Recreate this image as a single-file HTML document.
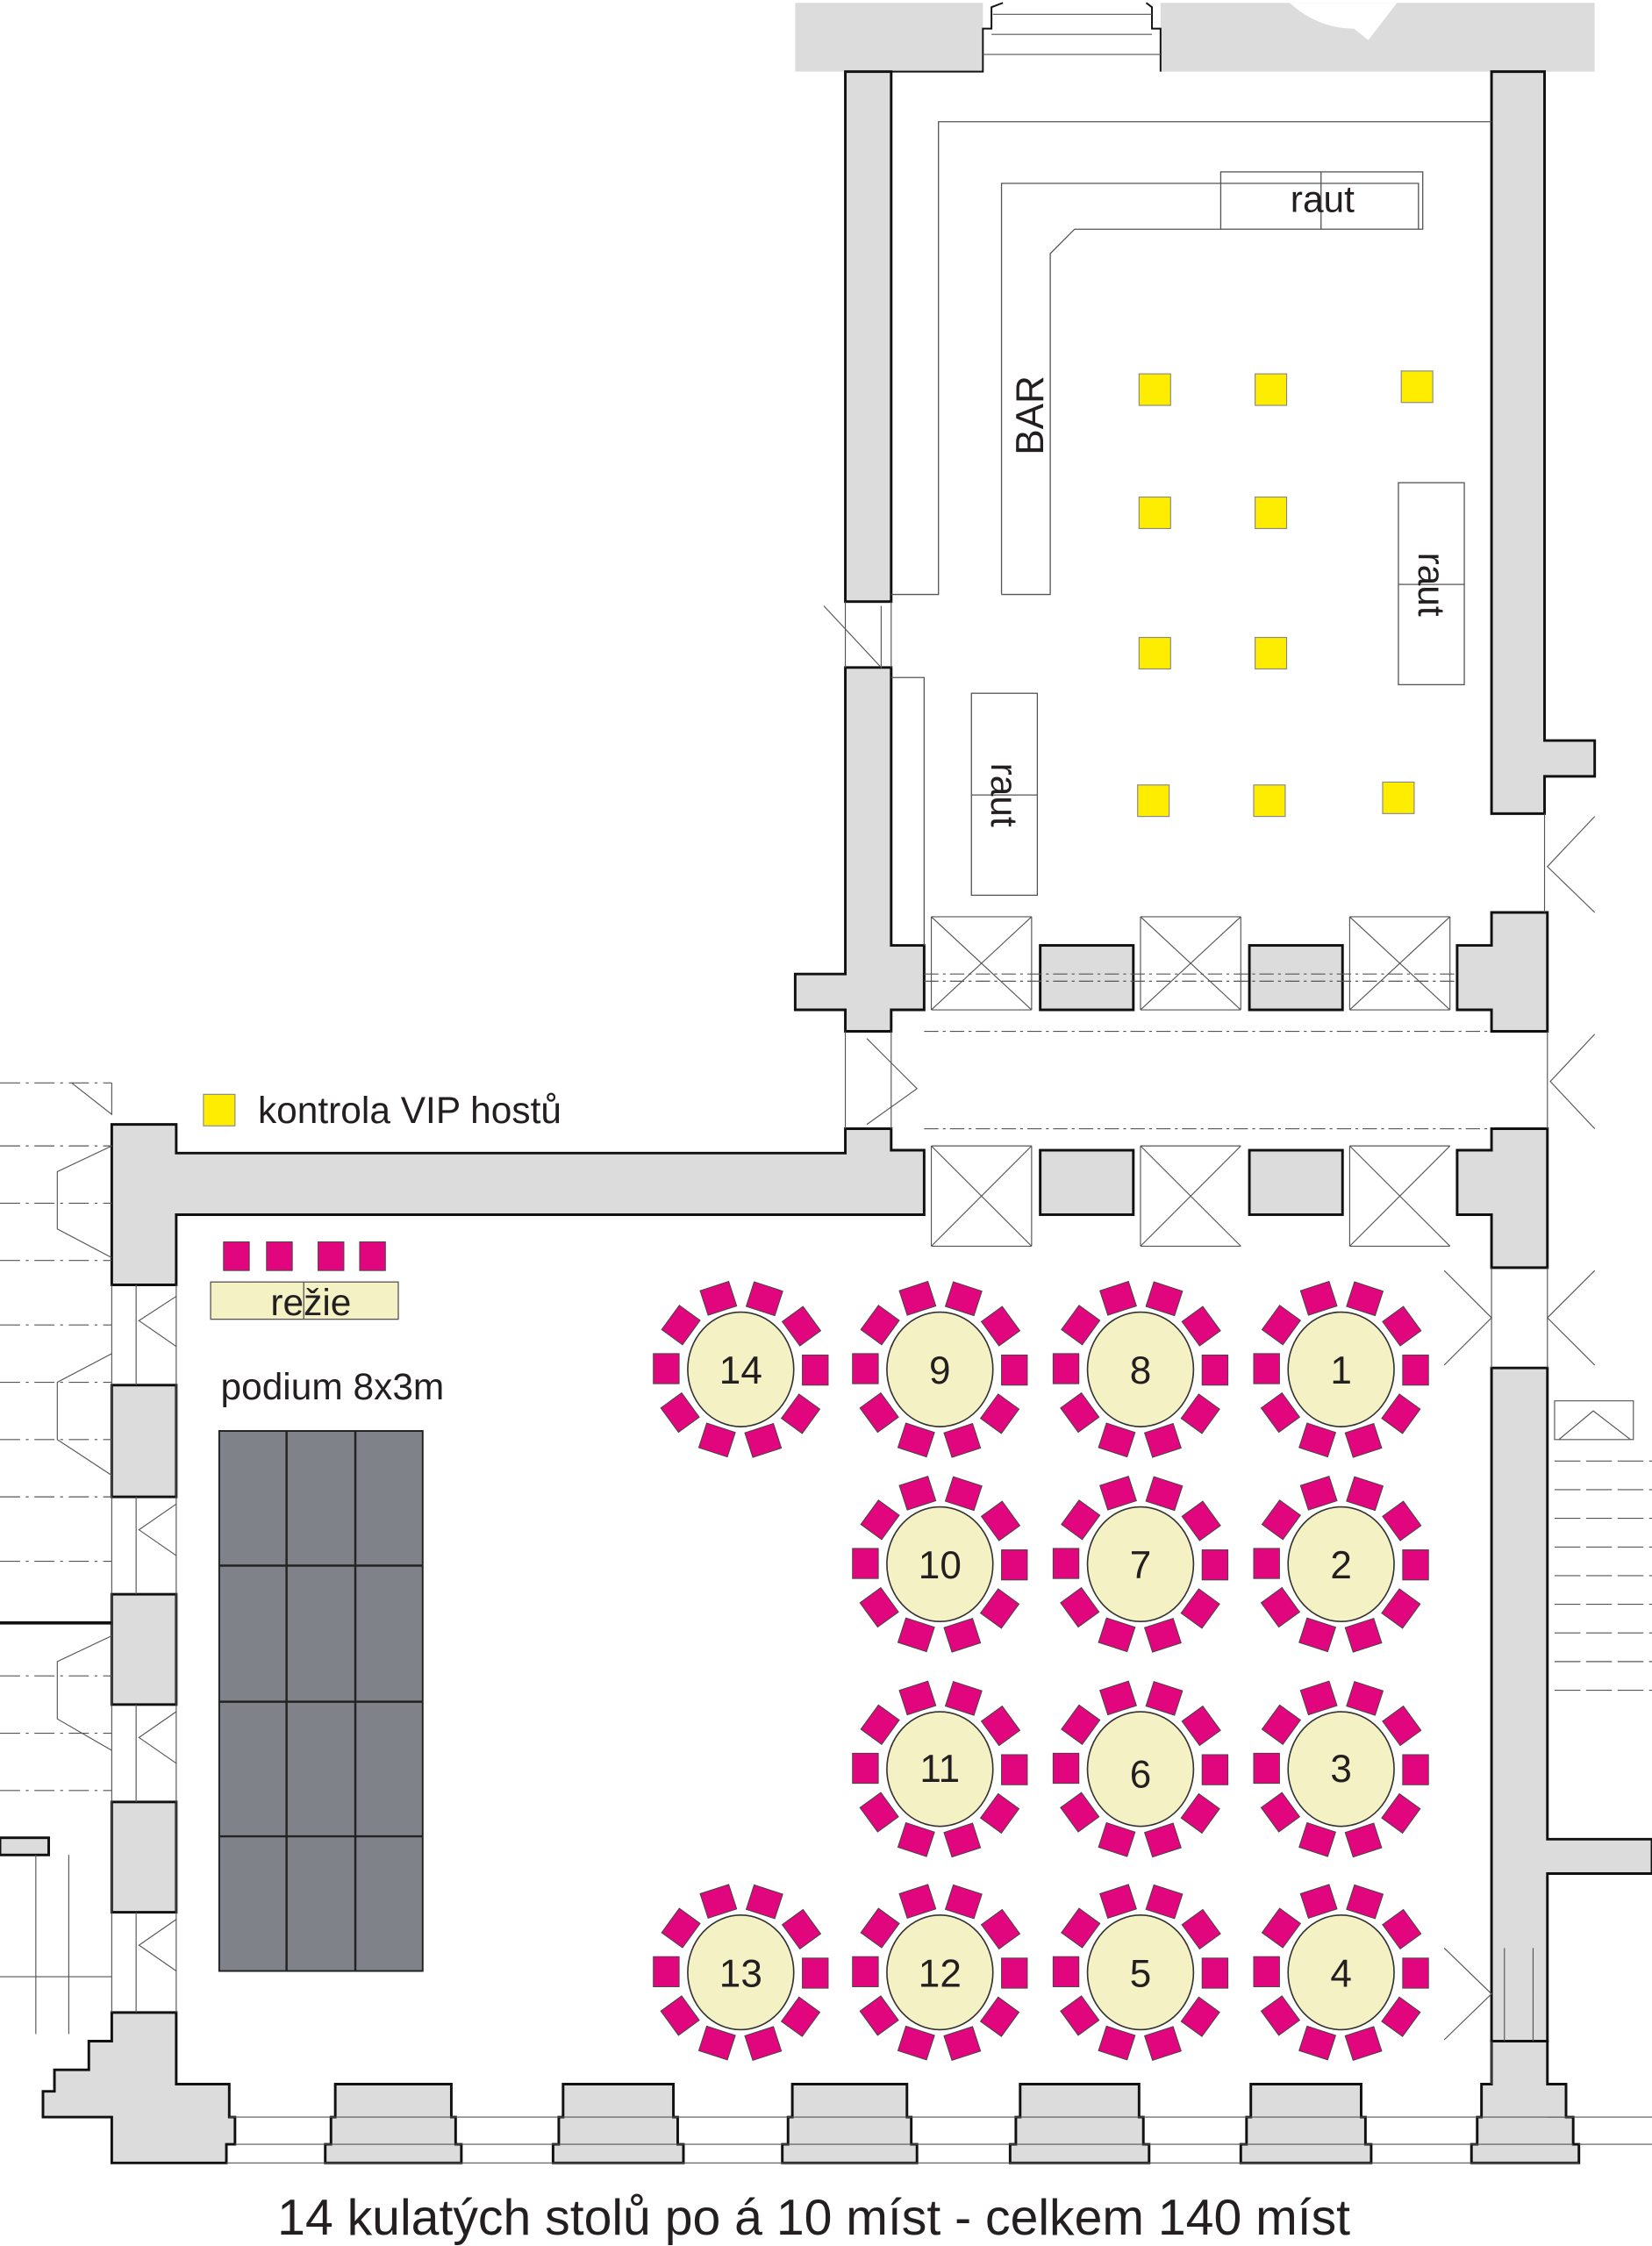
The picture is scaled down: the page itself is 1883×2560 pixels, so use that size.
<!DOCTYPE html>
<html><head><meta charset="utf-8"><style>
html,body{margin:0;padding:0;background:#fff;}
svg{display:block;}
text{font-family:"Liberation Sans",Arial,sans-serif;fill:#231f20;}
</style></head><body>
<svg width="1883" height="2560" viewBox="0 0 1153 1568" preserveAspectRatio="none" xmlns="http://www.w3.org/2000/svg">
<defs>
<g id="seats" fill="#e2067e" stroke="#444" stroke-width="0.6">
<rect x="-10" y="-61" width="21" height="18" transform="rotate(-18)"/>
<rect x="-10" y="-61" width="21" height="18" transform="rotate(18)"/>
<rect x="-10" y="-61" width="21" height="18" transform="rotate(54)"/>
<rect x="-10" y="-61" width="21" height="18" transform="rotate(90)"/>
<rect x="-10" y="-61" width="21" height="18" transform="rotate(126)"/>
<rect x="-10" y="-61" width="21" height="18" transform="rotate(162)"/>
<rect x="-10" y="-61" width="21" height="18" transform="rotate(198)"/>
<rect x="-10" y="-61" width="21" height="18" transform="rotate(234)"/>
<rect x="-10" y="-61" width="21" height="18" transform="rotate(270)"/>
<rect x="-10" y="-61" width="21" height="18" transform="rotate(306)"/>
<ellipse cx="0" cy="0" rx="37" ry="40" fill="#f4f2c4" stroke="#333" stroke-width="1"/>
</g>
</defs>

<g fill="#dcdcdc" stroke="#111" stroke-width="1.8">
<rect x="555" y="2" width="131" height="48" stroke="none"/>
<rect x="810" y="2" width="303" height="48" stroke="none"/>
<rect x="590" y="50" width="32" height="370"/>
<polygon points="590,466 622,466 622,660 645,660 645,705 622,705 622,720 590,720 590,705 555,705 555,680 590,680"/>
<polygon points="1041,50 1078,50 1078,517 1113,517 1113,542 1078,542 1078,568 1041,568"/>
<rect x="726" y="660" width="65" height="45"/>
<rect x="872" y="660" width="65" height="45"/>
<polygon points="1041,637 1080,637 1080,720 1041,720 1041,705 1017,705 1017,660 1041,660"/>
<rect x="726" y="803" width="65" height="45"/>
<rect x="872" y="803" width="65" height="45"/>
<polygon points="1041,788 1080,788 1080,885 1041,885 1041,848 1017,848 1017,803 1041,803"/>
<polygon points="78,785 123,785 123,805 590,805 590,788 622,788 622,803 645,803 645,848 123,848 123,897 78,897"/>
<rect x="78" y="967" width="45" height="78"/>
<rect x="78" y="1113" width="45" height="77"/>
<rect x="78" y="1258" width="45" height="77"/>
<rect x="0" y="1283" width="34" height="12"/>
<polygon points="1041,955 1080,955 1080,1284 1153,1284 1153,1308 1080,1308 1080,1425 1041,1425"/>
<polygon points="78,1405 123,1405 123,1455 160,1455 160,1478 164,1478 164,1497 158,1497 158,1510 78,1510 78,1478 30,1478 30,1460 38,1460 38,1445 62,1445 62,1425 78,1425"/>
<polygon points="234,1455 315,1455 315,1478 318,1478 318,1497 322,1497 322,1510 227,1510 227,1497 231,1497 231,1478 234,1478"/>
<polygon points="393,1455 470,1455 470,1478 473,1478 473,1497 477,1497 477,1510 386,1510 386,1497 390,1497 390,1478 393,1478"/>
<polygon points="553,1455 633,1455 633,1478 636,1478 636,1497 640,1497 640,1510 546,1510 546,1497 550,1497 550,1478 553,1478"/>
<polygon points="712,1455 795,1455 795,1478 798,1478 798,1497 802,1497 802,1510 705,1510 705,1497 709,1497 709,1478 712,1478"/>
<polygon points="873,1455 950,1455 950,1478 953,1478 953,1497 957,1497 957,1510 866,1510 866,1497 870,1497 870,1478 873,1478"/>
<polygon points="1041,1425 1080,1425 1080,1455 1093,1455 1093,1478 1098,1478 1098,1497 1102,1497 1102,1510 1027,1510 1027,1497 1031,1497 1031,1478 1034,1478 1034,1455 1041,1455"/>
</g>
<path d="M900,2 Q920,20 945,20 L955,28 L975,2" fill="#fff"/>
<g fill="none" stroke="#111" stroke-width="1.2">
<path d="M590,50 L686,50 L686,20 L692,20 L692,5 L700,2 M810,50 L810,20 L804,20 L804,5 L800,2"/>
<path d="M693,10 H804 M692,24 H804 M686,38 H810" stroke="#555" stroke-width="0.7"/>
</g>

<g fill="none" stroke="#555" stroke-width="0.7">
<path d="M160,1478 H1093 M164,1497 H1098 M158,1510 H1102"/>
<path d="M95,897 V967 M95,1045 V1113 M95,1190 V1258 M95,1335 V1405 M78,897 V1405 M123,897 V1405"/>
<path d="M123,905 L97,922 L123,940 M123,1050 L97,1068 L123,1086 M123,1195 L97,1213 L123,1231 M123,1340 L97,1358 L123,1376"/>
<path d="M0,756 H78 M0,800 H78 M0,840 H78 M0,880 H78 M0,925 H78 M0,965 H78 M0,1005 H78 M0,1045 H78 M0,1090 H78 M0,1170 H78 M0,1210 H78 M0,1250 H78" stroke-dasharray="14,4,2,4"/>
<path d="M78,800 L40,818 L40,858 L78,878 M78,945 L40,965 L40,1005 L78,1030 M78,1142 L40,1160 L40,1200 L78,1222 M50,756 L78,778 L78,756" />
<path d="M25,1295 V1420 M48,1295 V1420 M0,1380 H78"/>
<path d="M0,1133 H78" stroke="#111" stroke-width="2.2"/>
<path d="M590,420 V466 M622,420 V466 M575,423 L615,466 L615,423"/>
<path d="M590,720 V788 M622,720 V788 M605,725 L640,760 L605,785"/>
<path d="M650,640 L720,705 M720,640 L650,705 M650,640 H720 M650,705 H720 M650,640 V705 M720,640 V705"/>
<path d="M796,640 L866,705 M866,640 L796,705 M796,640 H866 M796,705 H866 M796,640 V705 M866,640 V705"/>
<path d="M942,640 L1012,705 M1012,640 L942,705 M942,640 H1012 M942,705 H1012 M942,640 V705 M1012,640 V705"/>
<path d="M650,800 L720,870 M720,800 L650,870 M650,800 H720 M650,870 H720 M650,800 V870 M720,800 V870"/>
<path d="M796,800 L866,870 M866,800 L796,870 M796,800 H866 M796,870 H866 M796,800 V870 M866,870 V870"/>
<path d="M942,800 L1012,870 M1012,800 L942,870 M942,800 H1012 M942,870 H1012 M942,800 V870 M1012,870 V870"/>
<path d="M645,680 H1017 M645,685 H1017 M645,720 H1041 M645,788 H1041" stroke-dasharray="10,3,2,3"/>
<path d="M1078,568 V637 M1113,570 L1080,605 L1113,637"/>
<path d="M1080,720 V788 M1113,722 L1082,755 L1113,788"/>
<path d="M1041,885 V955 M1080,885 V955 M1008,887 L1041,920 L1008,953 M1113,887 L1080,920 L1113,953"/>
<path d="M1041,1425 V1455 M1008,1360 L1041,1392 L1008,1424 M1050,1360 V1425 M1070,1360 V1425"/>
<path d="M1085,978 H1140 V1005 H1085 Z M1088,1005 L1112,985 L1138,1005"/>
<path d="M1085,1020 H1153 M1085,1040 H1153 M1085,1060 H1153 M1085,1080 H1153 M1085,1100 H1153 M1085,1120 H1153 M1085,1140 H1153 M1085,1160 H1153 M1085,1180 H1153" stroke-dasharray="18,4"/>
<path d="M1080,1478 H1153 M1102,1497 H1153"/>
</g>

<g fill="none" stroke="#555" stroke-width="0.8">
<path d="M622,415 H655 V85 H1041"/>
<path d="M699,415 V128 H852 M852,160 H750 L733,177 V415 H699"/>
<rect x="852" y="120" width="141" height="40"/>
<path d="M852,128 H990 V160 M922,120 V160"/>
<rect x="976" y="337" width="46" height="141"/>
<path d="M976,408 H1022"/>
<rect x="678" y="484" width="46" height="141"/>
<path d="M678,555 H724"/>
<path d="M622,473 H645 V660"/>
</g>
<text x="0" y="0" font-size="27" text-anchor="middle" transform="translate(728,290) rotate(-90)">BAR</text>
<text x="0" y="0" font-size="26" text-anchor="middle" transform="translate(923,148)">raut</text>
<text x="0" y="0" font-size="26" text-anchor="middle" transform="translate(990,408) rotate(90)">raut</text>
<text x="0" y="0" font-size="26" text-anchor="middle" transform="translate(692,555) rotate(90)">raut</text>

<g fill="#ffed00" stroke="#888" stroke-width="0.7">
<rect x="795" y="261" width="22" height="22"/><rect x="876" y="261" width="22" height="22"/><rect x="978" y="259" width="22" height="22"/>
<rect x="795" y="347" width="22" height="22"/><rect x="876" y="347" width="22" height="22"/>
<rect x="795" y="445" width="22" height="22"/><rect x="876" y="445" width="22" height="22"/>
<rect x="794" y="548" width="22" height="22"/><rect x="875" y="548" width="22" height="22"/><rect x="965" y="546" width="22" height="22"/>
<rect x="142" y="764" width="22" height="22"/>
</g>
<text x="180" y="784" font-size="26">kontrola VIP hostů</text>

<g fill="#e2067e" stroke="#444" stroke-width="0.6">
<rect x="156" y="867" width="18" height="20"/><rect x="186" y="867" width="18" height="20"/>
<rect x="222" y="867" width="18" height="20"/><rect x="251" y="867" width="18" height="20"/>
</g>
<rect x="147" y="895" width="131" height="26" fill="#f4f2c4" stroke="#555" stroke-width="0.8"/>
<line x1="212" y1="895" x2="212" y2="921" stroke="#555" stroke-width="0.8"/>
<text x="217" y="918" font-size="26" text-anchor="middle">režie</text>
<text x="154" y="977" font-size="26">podium 8x3m</text>

<rect x="153" y="999" width="142" height="377" fill="#7f8389" stroke="#222" stroke-width="1.2"/>
<path d="M200,999 V1376 M248,999 V1376 M153,1093 H295 M153,1188 H295 M153,1282 H295" stroke="#222" stroke-width="1.5"/>

<use href="#seats" x="517" y="956"/><use href="#seats" x="656" y="956"/><use href="#seats" x="796" y="956"/><use href="#seats" x="936" y="956"/>
<use href="#seats" x="656" y="1092"/><use href="#seats" x="796" y="1092"/><use href="#seats" x="936" y="1092"/>
<use href="#seats" x="656" y="1235"/><use href="#seats" x="796" y="1235"/><use href="#seats" x="936" y="1235"/>
<use href="#seats" x="517" y="1377"/><use href="#seats" x="656" y="1377"/><use href="#seats" x="796" y="1377"/><use href="#seats" x="936" y="1377"/>
<g font-size="27" text-anchor="middle">
<text x="517" y="966">14</text><text x="656" y="966">9</text><text x="796" y="966">8</text><text x="936" y="966">1</text>
<text x="656" y="1102">10</text><text x="796" y="1102">7</text><text x="936" y="1102">2</text>
<text x="656" y="1244">11</text><text x="796" y="1248">6</text><text x="936" y="1244">3</text>
<text x="517" y="1387">13</text><text x="656" y="1387">12</text><text x="796" y="1387">5</text><text x="936" y="1387">4</text>
</g>

<text x="568" y="1560" font-size="35" text-anchor="middle">14 kulatých stolů po á 10 míst - celkem 140 míst</text>
</svg>
</body></html>
